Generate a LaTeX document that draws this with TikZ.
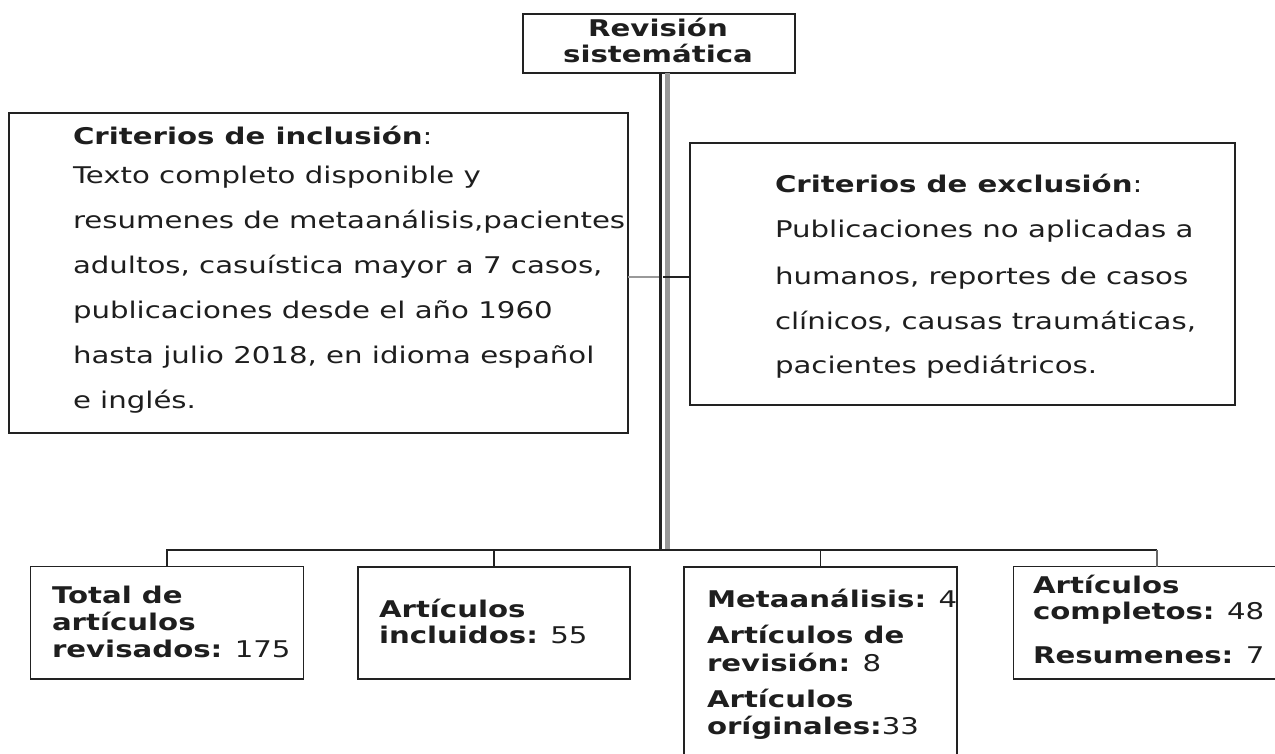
\documentclass[tikz,border=0pt]{standalone}
\usepackage{fontspec}
\setmainfont{DejaVu Sans}[FakeStretch=1.27]
\definecolor{linec}{HTML}{222222}
\definecolor{textc}{HTML}{1E1E1E}
\definecolor{grayl}{HTML}{999999}
\begin{document}
\begin{tikzpicture}[x=1pt,y=-1pt,
  box/.style={draw=linec, line width=1.9pt, inner sep=0pt, outer sep=0pt},
  txt/.style={inner sep=0pt, outer sep=0pt, text=textc, font=\fontsize{23}{27}\selectfont},
  conn/.style={draw=linec, line width=1.8pt},
  grayconn/.style={draw=grayl, line width=2pt}]
\useasboundingbox (0,0) rectangle (1275,754);
\clip (0,0) rectangle (1275,754);
\fill[white] (0,0) rectangle (1275,754);

% boxes
\node[box, minimum width=272pt, minimum height=59pt] (top) at (659,43.5) {};
\node[box, minimum width=619pt, minimum height=320pt] (inc) at (318.5,273) {};
\node[box, minimum width=545pt, minimum height=262pt] (exc) at (962.5,274) {};
\node[box, minimum width=273pt, minimum height=112.5pt] (b1) at (167,622.75) {};
\node[box, minimum width=272.5pt, minimum height=112pt] (b2) at (494,623) {};
\node[box, minimum width=273pt, minimum height=206pt] (b3) at (820.5,670) {};
\node[box, minimum width=287pt, minimum height=112.5pt] (b4) at (1157,622.75) {};

% texts
\node[txt, anchor=base] (t1) at (658,37) {\textbf{Revisión}};
\node[txt, anchor=base] (t2) at (658,63) {\textbf{sistemática}};

\node[txt, anchor=base west] (i0) at (73,145) {\textbf{Criterios de inclusión}:};
\node[txt, anchor=base west] (i1) at (73,184) {Texto completo disponible y};
\node[txt, anchor=base west] (i2) at (73,229) {resumenes de metaanálisis,pacientes};
\node[txt, anchor=base west] (i3) at (73,273.5) {adultos, casuística mayor a 7 casos,};
\node[txt, anchor=base west] (i4) at (73,318) {publicaciones desde el año 1960};
\node[txt, anchor=base west] (i5) at (73,363) {hasta julio 2018, en idioma español};
\node[txt, anchor=base west] (i6) at (73,408) {e inglés.};

\node[txt, anchor=base west] (e0) at (775,193) {\textbf{Criterios de exclusión}:};
\node[txt, anchor=base west] (e1) at (775,238) {Publicaciones no aplicadas a};
\node[txt, anchor=base west] (e2) at (775,284) {humanos, reportes de casos};
\node[txt, anchor=base west] (e3) at (775,329) {clínicos, causas traumáticas,};
\node[txt, anchor=base west] (e4) at (775,373) {pacientes pediátricos.};

\node[txt, anchor=base west] (a1) at (52,603) {\textbf{Total de}};
\node[txt, anchor=base west] (a2) at (52,630) {\textbf{artículos}};
\node[txt, anchor=base west] (a3) at (52,657) {\textbf{revisados:} 175};

\node[txt, anchor=base west] (c1) at (379,617) {\textbf{Artículos}};
\node[txt, anchor=base west] (c2) at (379,643) {\textbf{incluidos:} 55};

\node[txt, anchor=base west] (m1) at (707,607) {\textbf{Metaanálisis:} 4};
\node[txt, anchor=base west] (m2) at (707,643) {\textbf{Artículos de}};
\node[txt, anchor=base west] (m3) at (707,671) {\textbf{revisión:} 8};
\node[txt, anchor=base west] (m4) at (707,707) {\textbf{Artículos}};
\node[txt, anchor=base west] (m5) at (707,734) {\textbf{oríginales:}33};

\node[txt, anchor=base west] (r1) at (1033,593) {\textbf{Artículos}};
\node[txt, anchor=base west] (r2) at (1033,619) {\textbf{completos:} 48};
\node[txt, anchor=base west] (r3) at (1033,663) {\textbf{Resumenes:} 7};

% connectors
\coordinate (bus) at (661,550);
\coordinate (mid) at (661,277);
\draw[grayl, line width=5pt] ([xshift=8pt]top.south) -- ([xshift=8pt]top.south |- bus);
\draw[linec, line width=3.6pt] ([xshift=1.5pt]top.south) -- ([xshift=1.5pt]top.south |- bus);
\draw[grayconn] (inc.east |- mid) -- ([xshift=-2pt]mid);
\draw[conn] ([xshift=2pt]mid) -- (exc.west |- mid);
\draw[conn] (b1.north) |- (bus) -- (b3.north |- bus) -- (b4.north |- bus);
\draw[conn] (b2.north) -- (b2.north |- bus);
\draw[conn] (b3.north) -- (b3.north |- bus);
\draw[draw=gray!80!black, line width=1.8pt] (b4.north) -- (b4.north |- bus);
\end{tikzpicture}
\end{document}
